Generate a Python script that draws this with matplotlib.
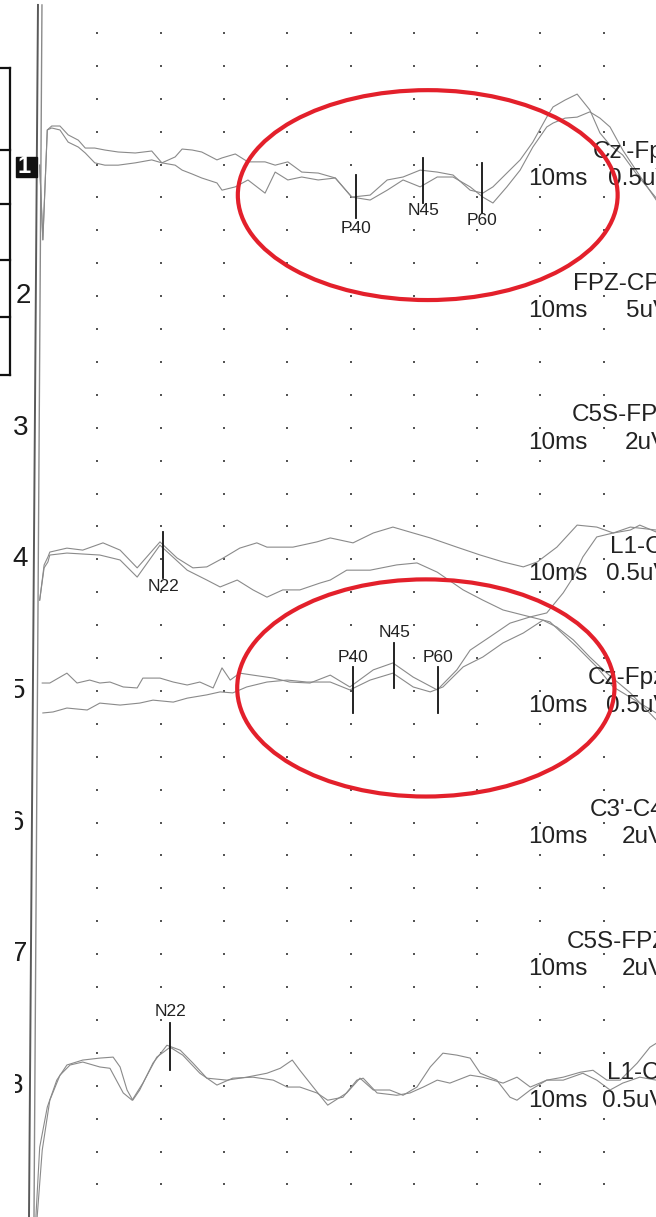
import matplotlib
matplotlib.use("Agg")
from matplotlib import pyplot as plt
from matplotlib import font_manager
from matplotlib.patches import Ellipse, Rectangle
import numpy as np

# Time in ms (10 ms per division), amplitude in vertical grid divisions (up = positive).
# Channel k is drawn on grid row 1 + 4k.

# ch1  Cz'-Fpz, two superimposed averages
ch1_t = [0.9, 1.4, 2.1, 2.8, 4.1, 5.4, 7.0, 8.1, 9.6, 11.2, 13.3, 16.0, 18.6, 20.2, 22.3, 23.4,
         25.0, 26.5, 28.9, 29.7, 31.8, 33.8, 36.5, 38.1, 40.1, 42.3, 44.9, 47.6, 50.2, 53.1, 55.8,
         58.3, 61.0, 63.7, 66.2, 68.9, 70.9, 72.5, 74.7, 76.8, 78.8, 81.0, 82.0, 83.9, 85.8, 87.8,
         89.4, 91.0, 93.0, 95.3, 98.3]
ch1_a = [-0.02, -2.29, 1.05, 1.17, 1.17, 0.90, 0.74, 0.50, 0.50, 0.44, 0.38, 0.35, 0.41, 0.05,
         0.23, 0.47, 0.44, 0.38, 0.14, 0.20, 0.32, 0.08, 0.08, -0.02, 0.08, -0.23, -0.26, -0.41,
         -0.99, -0.93, -0.47, -0.38, -0.17, -0.23, -0.32, -0.78, -0.87, -0.68, -0.26, 0.14, 0.68,
         1.44, 1.75, 1.96, 2.14, 1.66, 0.96, 0.59, 0.29, -0.32, -1.02]
ch1_b = [-0.02, -2.29, 1.05, 1.11, 1.05, 0.68, 0.53, 0.35, 0.05, -0.02, -0.02, 0.05, 0.14, 0.05,
         -0.02, -0.17, -0.29, -0.41, -0.56, -0.78, -0.68, -0.47, -0.87, -0.23, -0.47, -0.38,
         -0.47, -0.41, -0.99, -1.08, -0.78, -0.47, -0.68, -0.38, -0.38, -0.68, -0.99, -1.17,
         -0.68, -0.17, 0.53, 1.14, 1.26, 1.41, 1.44, 1.60, 1.41, 1.14, 0.44, -0.23, -1.08]

# ch4  L1-C
ch4_ta = [0.9, 1.6, 2.2, 2.5, 5.2, 7.7, 10.9, 13.6, 16.3, 19.9, 22.6, 25.1, 27.3, 29.9, 32.5,
          35.2, 36.8, 40.9, 44.7, 46.8, 50.4, 53.6, 56.7, 59.9, 62.6, 66.8, 70.5, 74.1, 77.3,
          79.5, 82.6, 85.8, 88.9, 91.5, 94.2, 95.7, 98.3]
ch4_a = [-1.24, -0.17, 0.07, 0.22, 0.34, 0.28, 0.50, 0.28, -0.26, 0.53, 0.04, -0.26, -0.23, 0.04,
         0.34, 0.50, 0.37, 0.37, 0.53, 0.65, 0.50, 0.80, 0.98, 0.80, 0.65, 0.37, 0.13, -0.08,
         -0.23, -0.08, 0.37, 1.04, 0.98, 0.80, 0.89, 1.04, 0.83]
ch4_tb = [0.9, 1.6, 2.2, 2.5, 5.2, 10.4, 13.6, 16.3, 19.9, 24.2, 27.3, 29.4, 32.1, 34.6, 36.8,
          39.3, 42.0, 45.2, 46.8, 49.4, 53.1, 57.3, 60.5, 63.7, 67.8, 70.9, 74.1, 78.4, 81.5,
          85.8, 88.9, 91.5, 95.7, 98.3]
ch4_b = [-1.24, -0.26, -0.08, 0.13, 0.19, 0.13, -0.02, -0.54, 0.43, -0.33, -0.63, -0.84, -0.63,
         -0.93, -1.15, -0.93, -0.93, -0.72, -0.63, -0.33, -0.33, -0.17, -0.11, -0.39, -0.93,
         -1.24, -1.54, -1.75, -1.90, -2.67, -3.27, -3.88, -4.37, -4.67]

# ch5  Cz-Fpz
ch5_ta = [1.3, 2.5, 5.2, 6.8, 8.8, 10.4, 12.0, 14.1, 16.3, 17.2, 19.9, 22.0, 24.2, 26.2, 28.3,
          29.7, 31.0, 32.5, 34.6, 37.8, 40.4, 43.6, 46.8, 49.9, 53.6, 56.7, 59.9, 63.7, 66.8,
          68.9, 72.0, 75.2, 78.4, 81.0, 83.6, 85.2, 86.7, 88.9, 91.5, 94.2, 98.3]
ch5_a = [0.24, 0.24, 0.54, 0.24, 0.33, 0.24, 0.27, 0.12, 0.09, 0.39, 0.39, 0.27, 0.18, 0.27,
         0.09, 0.70, 0.33, 0.54, 0.48, 0.39, 0.27, 0.24, 0.48, 0.12, 0.64, 0.85, 0.42, 0.03,
         0.64, 1.24, 1.64, 2.06, 2.25, 2.37, 2.98, 3.46, 4.07, 4.68, 4.80, 4.98, 4.89]
ch5_tb = [1.4, 3.0, 5.2, 8.4, 10.4, 13.6, 16.7, 18.8, 22.0, 24.2, 27.3, 29.4, 31.4, 33.6, 36.8,
          40.0, 43.1, 46.8, 49.9, 53.1, 56.7, 59.9, 62.6, 64.6, 67.8, 70.9, 74.1, 77.3, 80.4,
          82.6, 85.2, 87.8, 90.5, 94.2, 98.3]
ch5_b = [-0.67, -0.64, -0.52, -0.58, -0.37, -0.43, -0.37, -0.28, -0.34, -0.22, -0.12, -0.03,
         -0.06, 0.12, 0.27, 0.33, 0.27, 0.27, 0.03, 0.33, 0.54, 0.12, -0.03, 0.12, 0.73, 1.03,
         1.46, 1.76, 2.15, 1.94, 1.55, 1.03, 0.54, -0.06, -0.88]

# ch8  L1-C
ch8_ta = [0.3, 0.9, 2.1, 3.6, 5.2, 7.7, 10.4, 12.5, 13.6, 14.7, 15.6, 16.7, 18.8, 21.0, 23.1,
          25.1, 27.3, 30.5, 33.6, 36.8, 38.9, 40.8, 42.0, 44.1, 46.4, 49.4, 51.5, 53.6, 56.2,
          58.3, 60.5, 62.6, 64.6, 66.8, 68.9, 70.5, 73.1, 75.2, 76.3, 78.4, 81.0, 83.6, 86.3,
          88.3, 90.5, 92.6, 95.3, 97.3, 98.3]
ch8_a = [-3.99, -1.87, -0.65, 0.17, 0.63, 0.78, 0.84, 0.87, 0.57, -0.13, -0.44, -0.13, 0.69,
         1.23, 1.08, 0.69, 0.23, 0.17, 0.26, 0.38, 0.53, 0.78, 0.47, -0.04, -0.59, -0.22, 0.23,
         -0.13, -0.13, -0.29, -0.04, 0.57, 0.99, 0.93, 0.84, 0.38, 0.17, -0.35, -0.44, -0.13,
         0.17, 0.26, 0.41, 0.47, 0.17, 0.17, 0.69, 1.17, 1.29]
ch8_tb = [0.5, 1.3, 2.5, 4.1, 5.7, 7.7, 10.4, 12.0, 14.1, 15.5, 17.2, 19.4, 21.5, 23.5, 26.2,
          28.9, 31.4, 34.6, 37.8, 40.0, 42.0, 44.7, 46.4, 48.8, 51.0, 52.0, 54.2, 57.3, 59.4,
          61.5, 63.7, 65.7, 68.9, 70.9, 74.1, 76.3, 78.4, 81.0, 83.6, 86.7, 88.9, 91.0, 93.0,
          95.7, 98.3]
ch8_b = [-3.99, -1.96, -0.44, 0.32, 0.63, 0.72, 0.57, 0.53, -0.22, -0.44, 0.08, 0.87, 1.17,
         0.93, 0.38, 0.02, 0.23, 0.26, 0.17, -0.04, -0.04, -0.22, -0.44, -0.35, 0.17, 0.23,
         -0.22, -0.29, -0.22, -0.04, 0.17, 0.08, 0.32, 0.26, 0.08, 0.26, -0.04, 0.17, 0.17,
         0.38, 0.17, -0.13, 0.08, 0.26, 0.17]

channel_names = ["Cz'-Fpz", "FPZ-CPZ", "C5S-FPZ", "L1-C", "Cz-Fpz", "C3'-C4'", "C5S-FPZ", "L1-C"]
sensitivity = ["0.5uV", "5uV", "2uV", "0.5uV", "0.5uV", "2uV", "2uV", "0.5uV"]
timebase = "10ms"

# peak cursors: label, channel, latency (ms), cursor top / bottom and label level (divisions)
peak_names = ["P40", "N45", "P60", "N22", "P40", "N45", "P60", "N22"]
peak_channel = [1, 1, 1, 4, 5, 5, 5, 8]
peak_latency = [50.9, 61.5, 70.8, 20.4, 50.4, 56.9, 63.8, 21.5]
peak_top = [-0.32, 0.20, 0.05, 0.83, 0.73, 1.46, 0.73, 1.90]
peak_bottom = [-1.63, -1.17, -1.47, -0.57, -0.67, 0.09, -0.67, 0.47]
peak_text = [-1.93, -1.41, -1.69, -0.84, 1.03, 1.79, 1.03, 2.27]

traces = {
    1: [(ch1_t, ch1_a), (ch1_t, ch1_b)],
    4: [(ch4_ta, ch4_a), (ch4_tb, ch4_b)],
    5: [(ch5_ta, ch5_a), (ch5_tb, ch5_b)],
    8: [(ch8_ta, ch8_a), (ch8_tb, ch8_b)],
}


def base_row(ch):
    return 1 + 4 * ch


installed = {f.name for f in font_manager.fontManager.ttflist}
narrow = "Liberation Sans Narrow" if "Liberation Sans Narrow" in installed else "Liberation Sans"

fig = plt.figure(figsize=(6.56, 12.17), dpi=100)
ax = fig.add_axes([0, 0, 1, 1])
ax.set_xlim(-5.37, 98.26)
ax.set_ylim(36.99, 0)
ax.axis("off")

# dotted grid, one dot per division
gx, gy = np.meshgrid(np.arange(10, 100, 10), np.arange(1, 37))
ax.scatter(gx.ravel(), gy.ravel(), s=2.5, marker="s", color="#555555", lw=0, zorder=1)

# stimulus line at t=0 (double stroke)
ax.plot([0.63, -0.79], [0.15, 37.0], color="#5a5a5a", lw=1.4, zorder=2)
ax.plot([1.26, 0.0], [0.15, 37.0], color="#8a8a8a", lw=1.0, zorder=2)

for ch, pair in traces.items():
    for t, amp in pair:
        ax.plot(t, base_row(ch) - np.array(amp), color="#8a8a8a", lw=0.8, zorder=3)

for name, ch, lat, top, bot, ty in zip(peak_names, peak_channel, peak_latency,
                                       peak_top, peak_bottom, peak_text):
    b = base_row(ch)
    ax.plot([lat, lat], [b - top, b - bot], color="#111111", lw=1.3, zorder=4)
    ax.text(lat, b - ty, name, ha="center", va="center", fontsize=12.5,
            family=narrow, color="#222222", zorder=5)

name_x = [88.2, 85.2, 85.0, 91.0, 87.4, 87.8, 84.2, 90.5]
sens_x = [90.7, 93.5, 93.4, 90.4, 90.4, 92.9, 92.9, 89.7]
for i in range(8):
    b = base_row(i + 1)
    ax.text(name_x[i], b - 0.38, channel_names[i], ha="left", va="center", fontsize=17.5,
            family=narrow, color="#222222", zorder=5)
    ax.text(78.0, b + 0.45, timebase, ha="left", va="center", fontsize=17.5,
            family=narrow, color="#222222", zorder=5)
    ax.text(sens_x[i], b + 0.45, sensitivity[i], ha="left", va="center", fontsize=17.5,
            family=narrow, color="#222222", zorder=5)

# channel numbers on the left margin
ax.add_patch(Rectangle((-2.84, 4.77), 3.31, 0.61, color="#111111", zorder=4))
ax.text(-1.58, 5.05, "1", ha="center", va="center", fontsize=17, color="white",
        family="Liberation Sans", weight="bold", zorder=5)
num_x = [-1.74, -2.05, -2.2, -2.53, -2.84, -2.37, -3.0]
for k, x in zip(range(2, 9), num_x):
    txt = ax.text(x, base_row(k), str(k), ha="center", va="center", fontsize=20,
                  family="Liberation Sans", color="#1a1a1a", zorder=5)
    if k >= 5:
        # lower numbers are cut along the scanned page edge
        clip = Rectangle((-3.0, base_row(k) - 1), 3, 2, transform=ax.transData)
        txt.set_clip_on(True)
        txt.set_clip_path(clip)

# table edge at top-left
ax.plot([-3.79, -3.79], [2.07, 11.40], color="#111111", lw=1.6, zorder=4)
for r in [2.07, 4.56, 6.20, 7.90, 9.64, 11.40]:
    ax.plot([-5.4, -3.79], [r, r], color="#111111", lw=1.6, zorder=4)

# highlighted regions
for c, w, h in [((62.2, 5.93), 60.0, 6.38), ((61.9, 20.91), 59.6, 6.6)]:
    ax.add_patch(Ellipse(c, w, h, fill=False, ec="#e3202b", lw=3.0, zorder=6))

fig.savefig("out.png", dpi=100, facecolor="white")
